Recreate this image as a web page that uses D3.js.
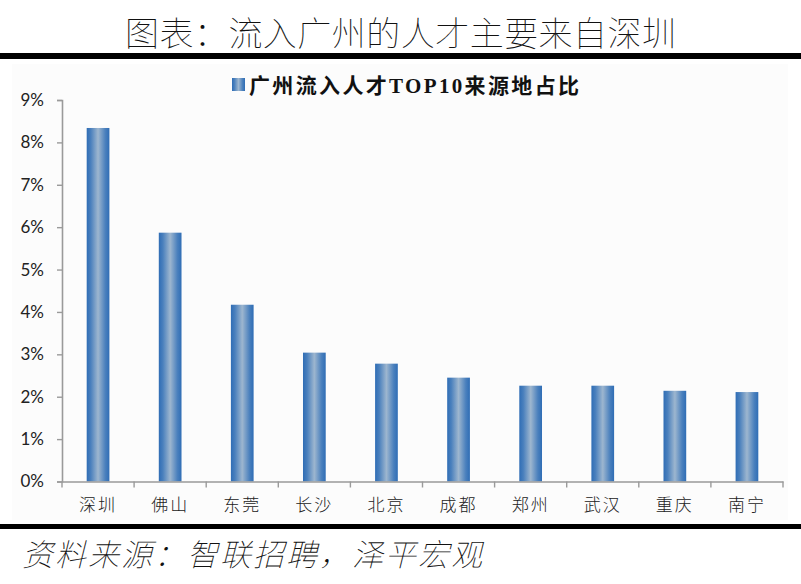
<!DOCTYPE html>
<html><head><meta charset="utf-8">
<script src="https://cdn.jsdelivr.net/npm/d3@7"></script>
<style>body{margin:0;background:#fff}svg{display:block}</style>
</head><body>
<script>
const categories = ["深圳","佛山","东莞","长沙","北京","成都","郑州","武汉","重庆","南宁"];
const values = [8.34, 5.87, 4.17, 3.04, 2.78, 2.45, 2.26, 2.26, 2.14, 2.11];
const yTicks = [0,1,2,3,4,5,6,7,8,9];
const title = "图表：流入广州的人才主要来自深圳";
const legendLabel = "广州流入人才TOP10来源地占比";
const source = "资料来源：智联招聘，泽平宏观";

const W = 801, H = 584;
const svg = d3.select("body").append("svg").attr("width", W).attr("height", H);
const defs = svg.append("defs");
const g = defs.append("linearGradient").attr("id","barg").attr("x1","0").attr("x2","1").attr("y1","0").attr("y2","0");
[[0,"#2f6db5"],[0.18,"#4a80bd"],[0.5,"#9db6cf"],[0.82,"#4a80bd"],[1,"#2f6db5"]].forEach(s=>g.append("stop").attr("offset",s[0]).attr("stop-color",s[1]));

// title
svg.append("text").attr("x",400.5).attr("y",46).attr("text-anchor","middle")
  .attr("font-family","'Noto Sans CJK SC'").attr("font-weight",100).attr("font-size",34)
  .attr("textLength",551).attr("lengthAdjust","spacing")
  .attr("fill","#111").text(title);
svg.append("rect").attr("x",0).attr("y",53).attr("width",W).attr("height",6).attr("fill","#000");
svg.append("rect").attr("x",0).attr("y",524).attr("width",W).attr("height",5).attr("fill","#000");

// chart background
svg.append("rect").attr("x",12).attr("y",64).attr("width",776).attr("height",456).attr("fill","#fcfcfc");

const x = d3.scaleBand().domain(categories).range([62,783]).paddingInner(0).paddingOuter(0);
const y = d3.scaleLinear().domain([0,9]).range([481.5,100]);

// bars
const bw = x.bandwidth()*0.315;
svg.append("g").selectAll("rect").data(values).join("rect")
  .attr("x",(d,i)=>x(categories[i])+x.bandwidth()/2-bw/2)
  .attr("y",d=>y(d)).attr("width",bw).attr("height",d=>y(0)-y(d))
  .attr("fill","url(#barg)");

// y axis
const ya = svg.append("g").attr("transform","translate(62,0)")
  .call(d3.axisLeft(y).tickValues(yTicks).tickFormat(d=>d+"%").tickSize(5).tickPadding(13));
ya.select(".domain").attr("stroke","#9a9a9a").attr("stroke-width",1.6);
ya.selectAll(".tick line").attr("stroke","#9a9a9a").attr("stroke-width",1.4);
ya.selectAll("text").attr("font-family","Lato, 'Open Sans', sans-serif").attr("font-size",17).attr("fill","#222");

// x axis
const xa = svg.append("g").attr("transform","translate(0,481.5)")
  .call(d3.axisBottom(x).tickSize(0).tickPadding(17));
xa.select(".domain").attr("stroke","#9a9a9a").attr("stroke-width",1.6);
xa.selectAll("text").attr("font-family","'Noto Sans CJK SC'").attr("font-weight",300).attr("font-size",17).attr("fill","#222").attr("letter-spacing",2);
const bounds = categories.map(c=>x(c)).concat([x.range()[1]]);
xa.selectAll(".bt").data(bounds).join("line").attr("class","bt")
  .attr("x1",d=>d).attr("x2",d=>d).attr("y1",0).attr("y2",6)
  .attr("stroke","#9a9a9a").attr("stroke-width",1.4);

// legend
svg.append("rect").attr("x",232).attr("y",78).attr("width",13).attr("height",13).attr("fill","url(#barg)");
svg.append("text").attr("x",249).attr("y",93).attr("font-family","'Liberation Serif','Noto Sans CJK SC'")
  .attr("font-weight","bold").attr("font-size",21).attr("fill","#111")
  .attr("textLength",330).attr("lengthAdjust","spacing").text(legendLabel);

// source
svg.append("text").attr("x",22).attr("y",566).attr("font-family","'Noto Sans CJK SC'")
  .attr("font-weight",100).attr("font-style","italic").attr("font-size",31)
  .attr("textLength",460).attr("lengthAdjust","spacing")
  .attr("fill","#111").text(source);
</script>
</body></html>
